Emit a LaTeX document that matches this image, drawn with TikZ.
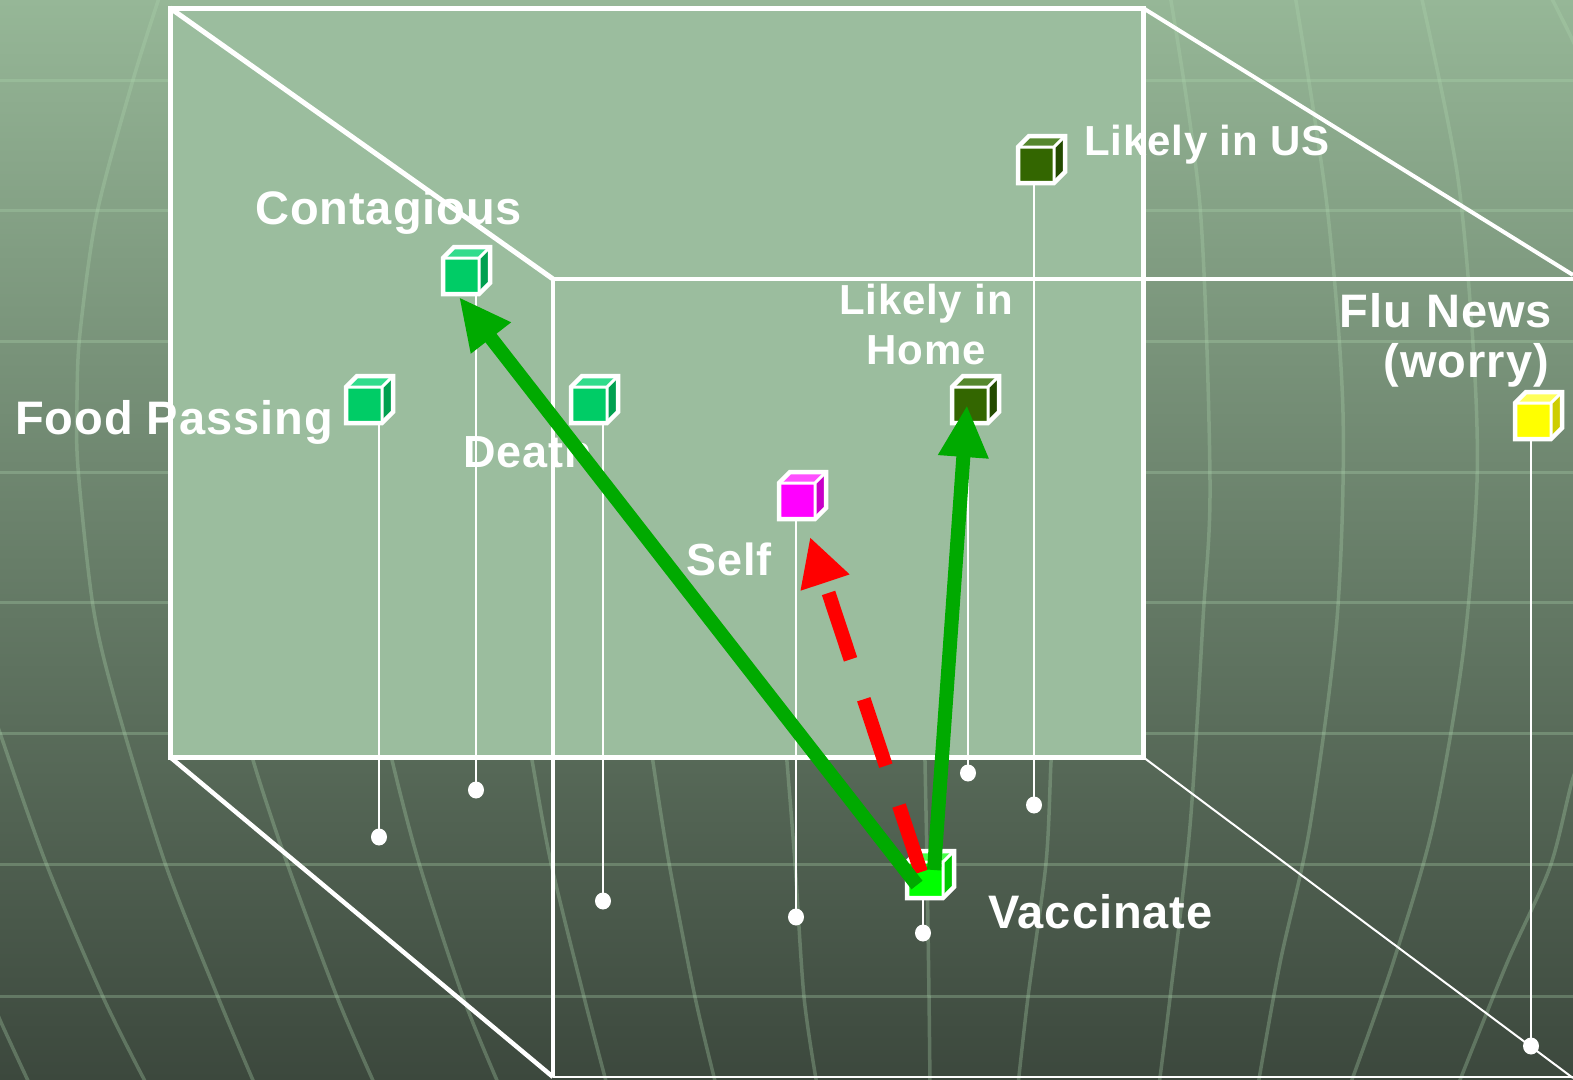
\documentclass[tikz,border=0pt]{standalone}
\usepackage{fontspec}
\setmainfont{Liberation Sans}
\usetikzlibrary{arrows.meta}
\definecolor{bgtop}{RGB}{150,183,151}
\definecolor{bgbot}{RGB}{60,72,61}
\definecolor{facefill}{RGB}{155,189,158}
\definecolor{gridc}{RGB}{175,215,175}
\definecolor{arrowgreen}{RGB}{0,170,0}
\definecolor{arrowred}{RGB}{255,0,0}
\definecolor{tealF}{RGB}{0,204,102}
\definecolor{tealT}{RGB}{50,220,140}
\definecolor{tealS}{RGB}{0,160,80}
\definecolor{oliveF}{RGB}{51,102,0}
\definecolor{oliveT}{RGB}{85,135,45}
\definecolor{oliveS}{RGB}{35,75,0}
\definecolor{magF}{RGB}{255,0,255}
\definecolor{magT}{RGB}{255,80,255}
\definecolor{magS}{RGB}{200,0,200}
\definecolor{yelF}{RGB}{255,255,0}
\definecolor{yelT}{RGB}{255,255,90}
\definecolor{yelS}{RGB}{205,205,0}
\definecolor{limeF}{RGB}{0,255,0}
\definecolor{limeT}{RGB}{70,255,70}
\definecolor{limeS}{RGB}{0,200,0}
\tikzset{
  gridline/.style={draw=gridc, draw opacity=0.3, line width=3pt},
  meridian/.style={draw=gridc, draw opacity=0.3, line width=3.5pt},
  frameline/.style={draw=white},
  stemline/.style={draw=white, line width=2pt},
  stemdot/.style={fill=white},
  lbl/.style={text=white, inner sep=0pt, font=\fontsize{47}{50}\selectfont\bfseries\addfontfeatures{LetterSpace=2}},
  lblmid/.style={text=white, inner sep=0pt, font=\fontsize{45}{50}\selectfont\bfseries\addfontfeatures{LetterSpace=2}},
  lblsmall/.style={text=white, inner sep=0pt, font=\fontsize{42}{50}\selectfont\bfseries\addfontfeatures{LetterSpace=2}},
  greenarrow/.style={draw=arrowgreen, line width=14pt, -{Triangle[length=52pt,width=47pt]}},
  redarrow/.style={draw=arrowred, line width=14pt, dash pattern=on 70pt off 42pt, -{Triangle[length=48pt,width=48pt]}},
  pics/cube/.style n args={3}{code={
    \fill[#2] (-18,-18) -- (-7,-29) -- (29,-29) -- (18,-18) -- cycle;
    \fill[#3] (18,-18) -- (29,-29) -- (29,7) -- (18,18) -- cycle;
    \fill[#1] (-18,-18) rectangle (18,18);
    \draw[white, line width=4.5pt, line join=miter] (-18,18) -- (-18,-18) -- (-7,-29) -- (29,-29) -- (29,7) -- (18,18) -- cycle;
    \draw[white, line width=3pt] (-18,-18) -- (18,-18) -- (18,18) (18,-18) -- (29,-29);
  }}
}
\begin{document}
\begin{tikzpicture}[x=1pt,y=-1pt]
\useasboundingbox (0,0) rectangle (1573,1079);
\begin{scope}
\clip (0,0) rectangle (1573,1079);
\shade[top color=bgtop, bottom color=bgbot] (0,0) rectangle (1573,1079);
\foreach \yy in {80,210,341,472,602,733,864,996}
  \draw[gridline] (0,\yy) -- (1573,\yy);
% meridian curves
\draw[meridian] plot[smooth] coordinates {(160,-5) (133,80) (97,213) (80,333) (77,400) (78,468) (93,606) (115,700) (165,863) (218,997) (255,1085)};
\draw[meridian] plot[smooth] coordinates {(-5,715) (0,733) (46,863) (103,997) (147,1085)};
\draw[meridian] plot[smooth] coordinates {(-5,1005) (0,1020) (30,1085)};
\draw[meridian] plot[smooth] coordinates {(240,700) (253,760) (287,863) (337,997) (375,1085)};
\draw[meridian] plot[smooth] coordinates {(380,700) (392,760) (419,863) (463,997) (499,1085)};
\draw[meridian] plot[smooth] coordinates {(522,700) (532,760) (551,863) (584,997) (607,1085)};
\draw[meridian] plot[smooth] coordinates {(645,700) (653,762) (669,863) (695,997) (716,1085)};
\draw[meridian] plot[smooth] coordinates {(782,700) (787,762) (795,863) (804,997) (817,1085)};
\draw[meridian] plot[smooth] coordinates {(924,700) (925,762) (927,863) (929,997) (930,1085)};
\draw[meridian] plot[smooth] coordinates {(1055,700) (1051,762) (1046,863) (1028,997) (1018,1085)};
\draw[meridian] plot[smooth] coordinates {(1170,-5) (1200,206) (1210,482) (1203,619) (1190,826) (1170,998) (1159,1085)};
\draw[meridian] plot[smooth] coordinates {(1295,-5) (1327,206) (1343,413) (1337,619) (1310,826) (1280,963) (1258,1085)};
\draw[meridian] plot[smooth] coordinates {(1421,-5) (1457,172) (1473,344) (1477,482) (1463,654) (1433,826) (1393,963) (1350,1085)};
\draw[meridian] plot[smooth] coordinates {(1590,740) (1573,778) (1550,867) (1507,963) (1458,1085)};
\draw[meridian] plot[smooth] coordinates {(1550,-5) (1573,41) (1585,70)};
\end{scope}
% front face of the box
\fill[facefill] (170,8) rectangle (1143,757);
\draw[frameline, line width=3.5pt] (553,1077) -- (553,279) -- (1573,279);
\draw[frameline, line width=1.5pt] (553,1077) -- (1573,1077);
\draw[frameline, line width=5pt] (170,8) rectangle (1143,757);
\draw[frameline, line width=5pt] (170,8) -- (553,279);
\draw[frameline, line width=4pt] (1143,8) -- (1573,275);
\draw[frameline, line width=4.5pt] (170,757) -- (553,1077);
\draw[frameline, line width=2pt] (1143,757) -- (1573,1078);
% cube positions
\coordinate (contagious) at (461,276);
\coordinate (food) at (364,405);
\coordinate (death) at (589,405);
\coordinate (likelyUS) at (1036,165);
\coordinate (likelyHome) at (970,405);
\coordinate (self) at (797,501);
\coordinate (flu) at (1533,421);
\coordinate (vaccinate) at (925,880);
% stems
\coordinate (contagiousB) at (476,290); \coordinate (contagiousD) at (476,790);
\coordinate (foodB) at (379,420); \coordinate (foodD) at (379,837);
\coordinate (deathB) at (603,420); \coordinate (deathD) at (603,901);
\coordinate (likelyUSB) at (1034,180); \coordinate (likelyUSD) at (1034,805);
\coordinate (likelyHomeB) at (968,420); \coordinate (likelyHomeD) at (968,773);
\coordinate (selfB) at (796,515); \coordinate (selfD) at (796,917);
\coordinate (fluB) at (1531,435); \coordinate (fluD) at (1531,1046);
\coordinate (vaccinateB) at (923,895); \coordinate (vaccinateD) at (923,933);
\foreach \n in {contagious,food,death,likelyUS,likelyHome,self,flu,vaccinate}{
  \draw[stemline] (\n B) -- (\n D);
  \fill[stemdot] (\n D) ellipse (8 and 8.5);
}
% cubes
\pic at (contagious) {cube={tealF}{tealT}{tealS}};
\pic at (food) {cube={tealF}{tealT}{tealS}};
\pic at (death) {cube={tealF}{tealT}{tealS}};
\pic at (likelyUS) {cube={oliveF}{oliveT}{oliveS}};
\pic at (likelyHome) {cube={oliveF}{oliveT}{oliveS}};
\pic at (self) {cube={magF}{magT}{magS}};
\pic at (flu) {cube={yelF}{yelT}{yelS}};
\pic at (vaccinate) {cube={limeF}{limeT}{limeS}};
% labels
\node[lbl, anchor=base west] (lContagious) at (255,224) {Contagious};
\node[lbl, anchor=base west] (lFood) at (15,434) {Food Passing};
\node[lblmid, anchor=base west] (lDeath) at (463,467) {Death};
\node[lblmid, anchor=base west] (lSelf) at (686,575) {Self};
\node[lblsmall, anchor=base] (lHome1) at (926,314) {Likely in};
\node[lblsmall, anchor=base] (lHome2) at (926,364) {Home};
\node[lblsmall, anchor=base west] (lUS) at (1084,155) {Likely in US};
\node[lbl, anchor=base east] (lFlu1) at (1552,327) {Flu News};
\node[lbl, anchor=base east] (lFlu2) at (1549,377) {(worry)};
\node[lbl, anchor=base west] (lVacc) at (988,928) {Vaccinate};
% arrows
\coordinate (vaccA) at (917,885);
\coordinate (vaccB) at (934,870);
\coordinate (vaccC) at (921,872);
\coordinate (contagiousTip) at (459,297);
\coordinate (likelyHomeTip) at (967,405);
\coordinate (selfTip) at (810,537);
\draw[redarrow] (vaccC) -- (selfTip);
\draw[greenarrow] (vaccA) -- (contagiousTip);
\draw[greenarrow] (vaccB) -- (likelyHomeTip);
\end{tikzpicture}
\end{document}
